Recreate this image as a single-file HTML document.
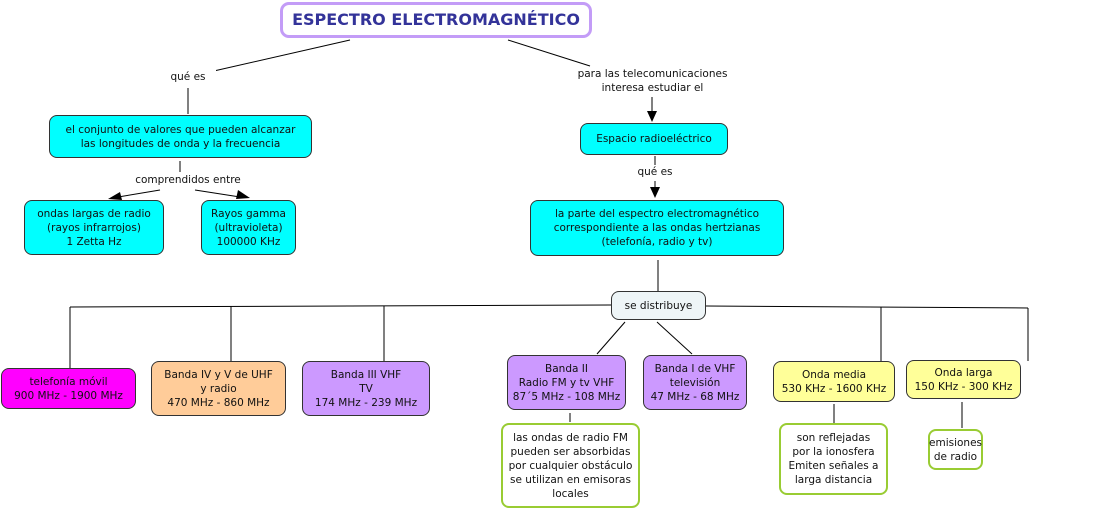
<!DOCTYPE html>
<html><head><meta charset="utf-8"><style>
body{margin:0;width:1096px;height:510px;background:#fff;position:relative;overflow:hidden;font-family:"DejaVu Sans","Liberation Sans",sans-serif;font-size:10.5px;color:#111}
.b{position:absolute;box-sizing:border-box;border:1px solid #333;border-radius:8px;display:flex;align-items:center;justify-content:center;text-align:center;line-height:14px}
.c{background:#00ffff}.p{background:#cc99ff}.y{background:#ffff99}
.g{background:#fff;border:2px solid #99cc33}
.l{position:absolute;text-align:center;line-height:14px;background:#fff}
svg{position:absolute;left:0;top:0}
</style></head><body>
<svg width="1096" height="510">
<g stroke="#000" stroke-width="1" fill="none">
<line x1="350" y1="40" x2="205" y2="73"/>
<line x1="188" y1="88" x2="188" y2="114"/>
<line x1="180" y1="161" x2="180" y2="172"/>
<line x1="160" y1="190" x2="118" y2="197"/>
<line x1="195" y1="190" x2="240" y2="197"/>
<line x1="508" y1="40" x2="590" y2="66"/>
<line x1="652" y1="97" x2="652" y2="115"/>
<line x1="655" y1="156" x2="655" y2="165"/>
<line x1="655" y1="181" x2="655" y2="190"/>
<line x1="658" y1="260" x2="658" y2="291"/>
<line x1="70" y1="307" x2="611" y2="305"/>
<line x1="706" y1="306" x2="1028" y2="308"/>
<line x1="70" y1="307" x2="70" y2="368"/>
<line x1="231" y1="306" x2="231" y2="361"/>
<line x1="384" y1="306" x2="384" y2="361"/>
<line x1="881" y1="307" x2="881" y2="361"/>
<line x1="1028" y1="308" x2="1028" y2="361"/>
<line x1="625" y1="322" x2="597" y2="354"/>
<line x1="657" y1="322" x2="692" y2="354"/>
<line x1="570" y1="413" x2="570" y2="422"/>
<line x1="834" y1="404" x2="834" y2="423"/>
<line x1="962" y1="402" x2="962" y2="428"/>
</g>
<g fill="#000">
<polygon points="108,199 120,192 122,200"/>
<polygon points="250,198 238,190 236,199"/>
<polygon points="652,122 647,111 657,111"/>
<polygon points="655,198 650,187 660,187"/>
</g>
</svg>
<div class="b" style="left:280px;top:2px;width:312px;height:36px;border:3px solid #c39cf7;border-radius:9px;color:#333399;font-weight:bold;font-size:16px">ESPECTRO ELECTROMAGNÉTICO</div>
<div class="l" style="left:160px;top:70px;width:56px">qué es</div>
<div class="b c" style="left:49px;top:115px;width:263px;height:43px">el conjunto de valores que pueden alcanzar<br>las longitudes de onda y la frecuencia</div>
<div class="l" style="left:120px;top:173px;width:136px">comprendidos entre</div>
<div class="b c" style="left:24px;top:200px;width:140px;height:55px">ondas largas de radio<br>(rayos infrarrojos)<br>1 Zetta Hz</div>
<div class="b c" style="left:201px;top:200px;width:95px;height:55px">Rayos gamma<br>(ultravioleta)<br>100000 KHz</div>
<div class="l" style="left:555px;top:67px;width:195px">para las telecomunicaciones<br>interesa estudiar el</div>
<div class="b c" style="left:580px;top:123px;width:148px;height:32px">Espacio radioeléctrico</div>
<div class="l" style="left:630px;top:165px;width:50px">qué es</div>
<div class="b c" style="left:530px;top:200px;width:254px;height:56px">la parte del espectro electromagnético<br>correspondiente a las ondas hertzianas<br>(telefonía, radio y tv)</div>
<div class="b" style="left:611px;top:291px;width:95px;height:29px;background:#eef5f7">se distribuye</div>
<div class="b" style="left:1px;top:368px;width:135px;height:41px;background:#ff00ff">telefonía móvil<br>900 MHz - 1900 MHz</div>
<div class="b" style="left:151px;top:361px;width:135px;height:55px;background:#ffcc99">Banda IV y V de UHF<br>y radio<br>470 MHz - 860 MHz</div>
<div class="b p" style="left:302px;top:361px;width:128px;height:55px">Banda III VHF<br>TV<br>174 MHz - 239 MHz</div>
<div class="b p" style="left:507px;top:355px;width:119px;height:55px">Banda II<br>Radio FM y tv VHF<br>87´5 MHz - 108 MHz</div>
<div class="b p" style="left:643px;top:355px;width:104px;height:55px">Banda I de VHF<br>televisión<br>47 MHz - 68 MHz</div>
<div class="b y" style="left:773px;top:361px;width:122px;height:41px">Onda media<br>530 KHz - 1600 KHz</div>
<div class="b y" style="left:906px;top:360px;width:115px;height:39px">Onda larga<br>150 KHz - 300 KHz</div>
<div class="b g" style="left:501px;top:423px;width:139px;height:85px">las ondas de radio FM<br>pueden ser absorbidas<br>por cualquier obstáculo<br>se utilizan en emisoras<br>locales</div>
<div class="b g" style="left:779px;top:423px;width:109px;height:72px">son reflejadas<br>por la ionosfera<br>Emiten señales a<br>larga distancia</div>
<div class="b g" style="left:928px;top:429px;width:55px;height:41px">emisiones<br>de radio</div>
</body></html>
